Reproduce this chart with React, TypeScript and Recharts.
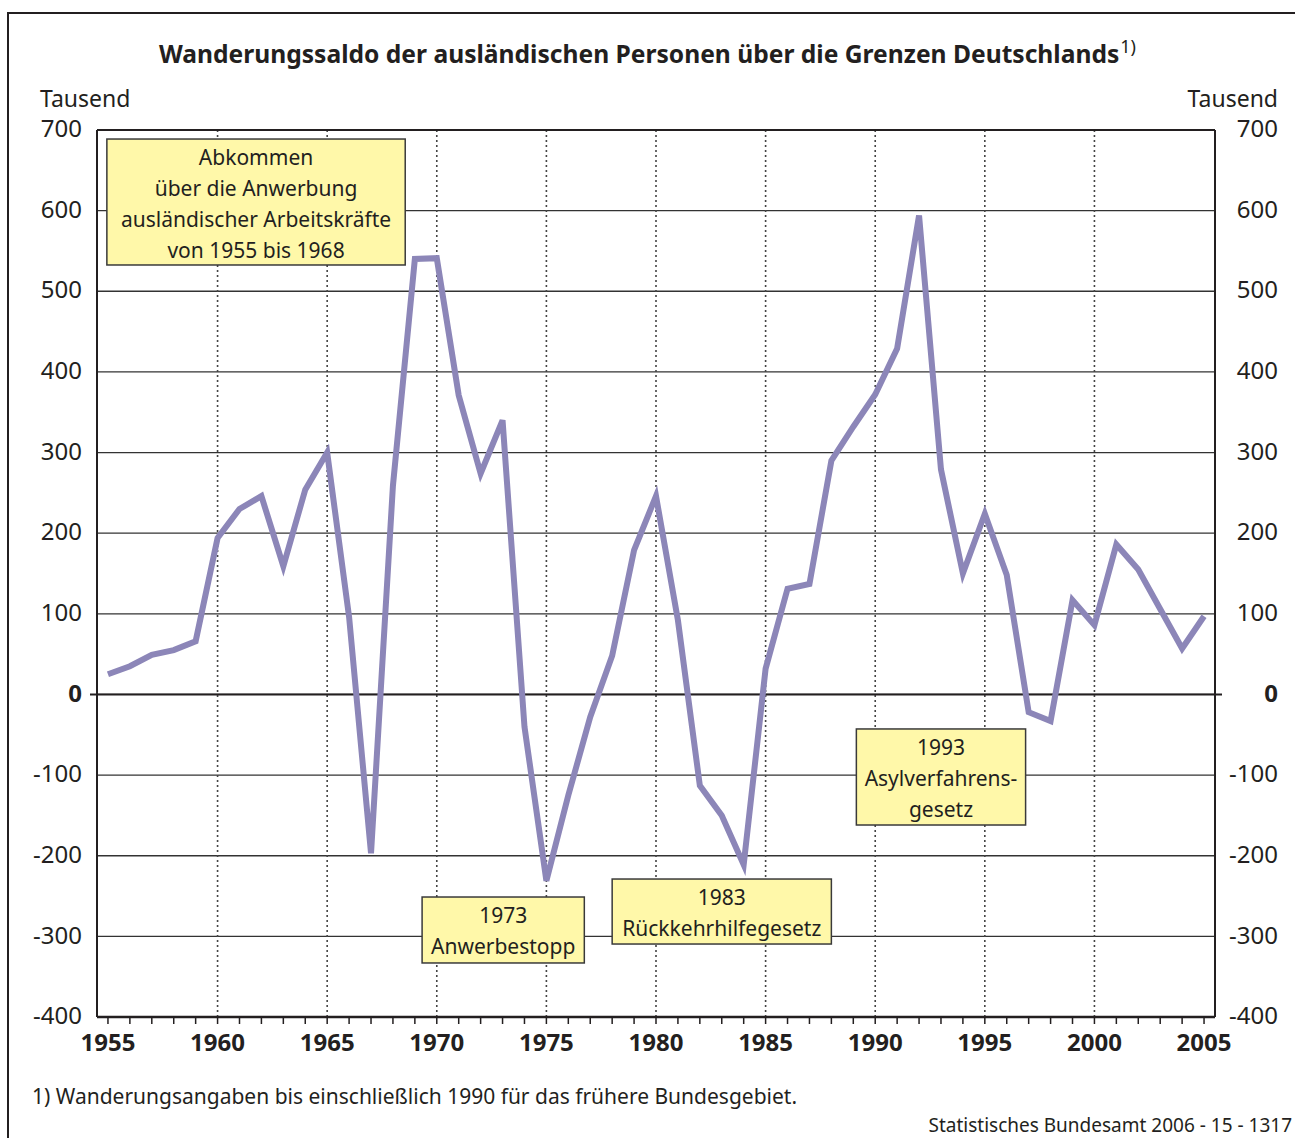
import React from 'react';
import { LineChart, Line, XAxis, YAxis, CartesianGrid, ReferenceLine, ReferenceArea } from 'recharts';

// Jahre und Wanderungssaldo (Tausend)
const years = [
  1955, 1956, 1957, 1958, 1959, 1960, 1961, 1962, 1963, 1964,
  1965, 1966, 1967, 1968, 1969, 1970, 1971, 1972, 1973, 1974,
  1975, 1976, 1977, 1978, 1979, 1980, 1981, 1982, 1983, 1984,
  1985, 1986, 1987, 1988, 1989, 1990, 1991, 1992, 1993, 1994,
  1995, 1996, 1997, 1998, 1999, 2000, 2001, 2002, 2003, 2004, 2005
];
const saldo = [
  25, 35, 49, 55, 66, 194, 230, 246, 159, 254,
  300, 96, -197, 259, 540, 541, 371, 274, 340, -40,
  -231, -125, -28, 48, 179, 246, 92, -113, -150, -211,
  32, 131, 137, 290, 332, 372, 429, 594, 279, 150,
  224, 148, -22, -33, 117, 86, 186, 155, 106, 57, 97
];

const xTicks = years;
const yTicks = [-400, -300, -200, -100, 0, 100, 200, 300, 400, 500, 600, 700];
const fiveYearLines = [1960, 1965, 1970, 1975, 1980, 1985, 1990, 1995, 2000];
const X_DOMAIN = [1954.5, 2005.5];

const title = 'Wanderungssaldo der ausländischen Personen über die Grenzen Deutschlands';
const footnote = '1) Wanderungsangaben bis einschließlich 1990 für das frühere Bundesgebiet.';
const source = 'Statistisches Bundesamt 2006 - 15 - 1317';

// Textkästen (Lage in Datenkoordinaten)
const notes = [
  { x1: 1954.95, x2: 1968.56, y1: 532.6, y2: 688.8, lines: ['Abkommen', 'über die Anwerbung', 'ausländischer Arbeitskräfte', 'von 1955 bis 1968'] },
  { x1: 1969.33, x2: 1976.73, y1: -333, y2: -251.2, lines: ['1973', 'Anwerbestopp'] },
  { x1: 1978.0, x2: 1988.0, y1: -309.5, y2: -228.9, lines: ['1983', 'Rückkehrhilfegesetz'] },
  { x1: 1989.14, x2: 1996.86, y1: -161.9, y2: -42.8, lines: ['1993', 'Asylverfahrens-', 'gesetz'] }
];

const data = years.map((year, i) => ({ year, saldo: saldo[i] }));

const FONT = '"Noto Sans", "DejaVu Sans", sans-serif';
const INK = '#231f20';

const XTick = (props: any) => {
  const { x, y, payload } = props;
  if (payload.value % 5 !== 0) return <g />;
  return (
    <text x={x} y={y} dy="0.71em" textAnchor="middle" fontSize={24} fontWeight="bold" fill={INK} fontFamily={FONT}>
      {payload.value}
    </text>
  );
};

const YTick = (props: any) => {
  const { x, y, payload } = props;
  return (
    <text x={x} y={y} dy="0.3em" textAnchor="end" fontSize={24} fontWeight={payload.value === 0 ? 'bold' : 'normal'} fill={INK} fontFamily={FONT}>
      {payload.value}
    </text>
  );
};

const noteShape = (lines: string[]) => (p: any) => (
  <g>
    <rect x={p.x} y={p.y} width={p.width} height={p.height} fill="#fff8a9" stroke="#3a3a3a" strokeWidth={1.5} />
    {lines.map((t, i) => (
      <text key={i} x={p.x + p.width / 2} y={p.y + 18 + i * 31} dy="0.36em" textAnchor="middle" fontSize={21} fill={INK} fontFamily={FONT}>
        {t}
      </text>
    ))}
  </g>
);

const ZeroLine = (p: any) => (
  <line x1={p.x1 - 7} y1={p.y1} x2={p.x2 + 7} y2={p.y2} stroke={INK} strokeWidth={2} />
);

// gepunktete Linien alle 5 Jahre (über die x-Skala)
const fiveYearCoords = ({ xAxis, offset }: any) =>
  fiveYearLines.map(yr => {
    if (xAxis && typeof xAxis.scale === 'function') return xAxis.scale(yr);
    return offset.left + ((yr - X_DOMAIN[0]) / (X_DOMAIN[1] - X_DOMAIN[0])) * offset.width;
  });

export default function App() {
  return (
    <div style={{ position: 'absolute', left: 0, top: 0, width: 1295, height: 1138, overflow: 'hidden', background: '#fff', fontFamily: FONT, color: INK }}>
      <div style={{ position: 'absolute', left: 7, top: 12, width: 1300, height: 1150, border: `2px solid ${INK}`, boxSizing: 'border-box' }} />
      <div style={{ position: 'absolute', left: 0, width: 1295, top: 29, textAlign: 'center', fontSize: 24.6, fontWeight: 'bold', lineHeight: '36px' }}>
        {title}
        <sup style={{ fontSize: 18, fontWeight: 'normal', position: 'relative', top: -1, marginLeft: 1 }}>1)</sup>
      </div>
      <div style={{ position: 'absolute', left: 40, top: 87, fontSize: 23, lineHeight: '22px' }}>Tausend</div>
      <div style={{ position: 'absolute', right: 17, top: 87, fontSize: 23, lineHeight: '22px' }}>Tausend</div>
      <div style={{ position: 'absolute', left: 32, top: 1082, fontSize: 21, lineHeight: '28px' }}>{footnote}</div>
      <div style={{ position: 'absolute', right: 3, top: 1113, fontSize: 19, lineHeight: '24px' }}>{source}</div>
      <div style={{ position: 'absolute', left: 0, top: 0 }}>
        <LineChart width={1295} height={1138} data={data} margin={{ top: 130, right: 0, bottom: 0, left: 0 }}>
          <CartesianGrid vertical={false} stroke="#333" strokeWidth={1.3} />
          <CartesianGrid
            horizontal={false}
            verticalCoordinatesGenerator={fiveYearCoords}
            stroke="#444"
            strokeWidth={1.6}
            strokeDasharray="2 3"
          />
          <XAxis
            dataKey="year"
            type="number"
            domain={X_DOMAIN}
            ticks={xTicks}
            interval={0}
            height={121}
            tick={<XTick />}
            tickSize={7}
            tickMargin={10}
            tickLine={{ stroke: INK, strokeWidth: 1.5 }}
            axisLine={{ stroke: INK, strokeWidth: 2.5 }}
          />
          <YAxis
            domain={[-400, 700]}
            ticks={yTicks}
            interval={0}
            width={97}
            tick={<YTick />}
            tickSize={0}
            tickMargin={15}
            tickLine={false}
            axisLine={{ stroke: INK, strokeWidth: 2 }}
          />
          <YAxis
            yAxisId="r"
            orientation="right"
            domain={[-400, 700]}
            allowDataOverflow
            ticks={yTicks}
            interval={0}
            width={80}
            tick={<YTick />}
            tickSize={0}
            tickMargin={63}
            tickLine={false}
            axisLine={{ stroke: INK, strokeWidth: 2 }}
          />
          <ReferenceLine y={700} stroke={INK} strokeWidth={2} />
          <ReferenceLine y={0} shape={ZeroLine} />
          {notes.map((n, i) => (
            <ReferenceArea key={i} x1={n.x1} x2={n.x2} y1={n.y1} y2={n.y2} shape={noteShape(n.lines)} />
          ))}
          <Line
            yAxisId="r"
            dataKey="saldo"
            stroke="none"
            dot={false}
            activeDot={false}
            isAnimationActive={false}
          />
          <Line
            dataKey="saldo"
            stroke="#8c86b8"
            strokeWidth={6}
            dot={false}
            activeDot={false}
            strokeLinejoin="miter"
            isAnimationActive={false}
          />
        </LineChart>
      </div>
    </div>
  );
}
